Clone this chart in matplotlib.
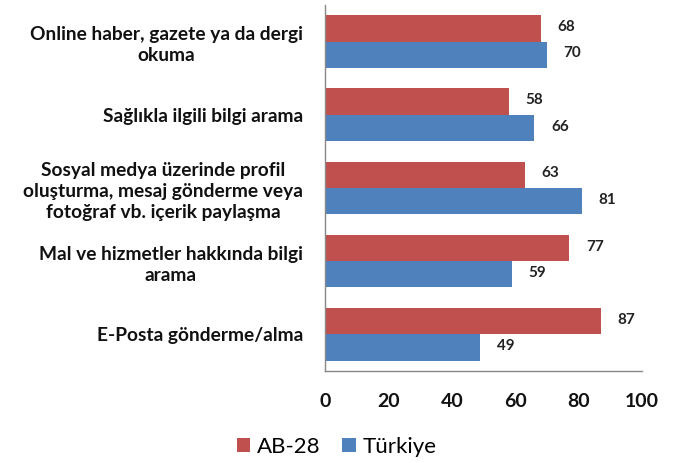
import matplotlib
matplotlib.use("Agg")
import matplotlib.pyplot as plt
import numpy as np

categories = [
    "Online haber, gazete ya da dergi\nokuma",
    "Sağlıkla ilgili bilgi arama",
    "Sosyal medya üzerinde profil\noluşturma, mesaj gönderme veya\nfotoğraf vb. içerik paylaşma",
    "Mal ve hizmetler hakkında bilgi\narama",
    "E-Posta gönderme/alma",
]
ab28 = [68, 58, 63, 77, 87]
turkiye = [70, 66, 81, 59, 49]
xticks = [0, 20, 40, 60, 80, 100]

plt.rcParams['font.family'] = ['Lato', 'DejaVu Sans']

fig = plt.figure(figsize=(6.73, 4.63), dpi=100)
ax = fig.add_axes([0.483, 0.199, 0.471, 0.790])

y = np.arange(len(categories))
h = 0.36
red = '#C0504D'
blue = '#4F81BD'
b1 = ax.barh(y - h/2, ab28, height=h, color=red, label='AB-28')
b2 = ax.barh(y + h/2, turkiye, height=h, color=blue, label='Türkiye')

for bars, vals in ((b1, ab28), (b2, turkiye)):
    for rect, v in zip(bars, vals):
        ax.annotate(str(v), (v, rect.get_y() + rect.get_height()/2), xytext=(12, 1),
                    textcoords='offset points', ha='left', va='center',
                    fontsize=11, fontweight='bold', color='#222222')

ax.set_ylim(len(categories) - 0.5, -0.5)
ax.set_xlim(0, 100)
ax.set_yticks(y)
ax.set_yticklabels(categories, fontsize=13.8, fontweight='bold', ha='right',
                   multialignment='center', color='#111111', linespacing=1.3)
ax.tick_params(axis='y', length=0, pad=16)
ax.set_xticks(xticks)
ax.set_xticklabels([str(t) for t in xticks], fontsize=14, fontweight='bold',
                   color='#111111')
ax.tick_params(axis='x', length=0, pad=16)

for s in ['top', 'right']:
    ax.spines[s].set_visible(False)
for s in ['left', 'bottom']:
    ax.spines[s].set_color('#888888')
    ax.spines[s].set_linewidth(1.0)

fig.legend(handles=[b1, b2], labels=['AB-28', 'Türkiye'], loc='center',
           bbox_to_anchor=(0.5, 0.035), ncol=2, frameon=False, fontsize=16,
           handlelength=0.6, handleheight=0.6, handletextpad=0.3, columnspacing=1.0)

fig.savefig('out.png', dpi=100)
